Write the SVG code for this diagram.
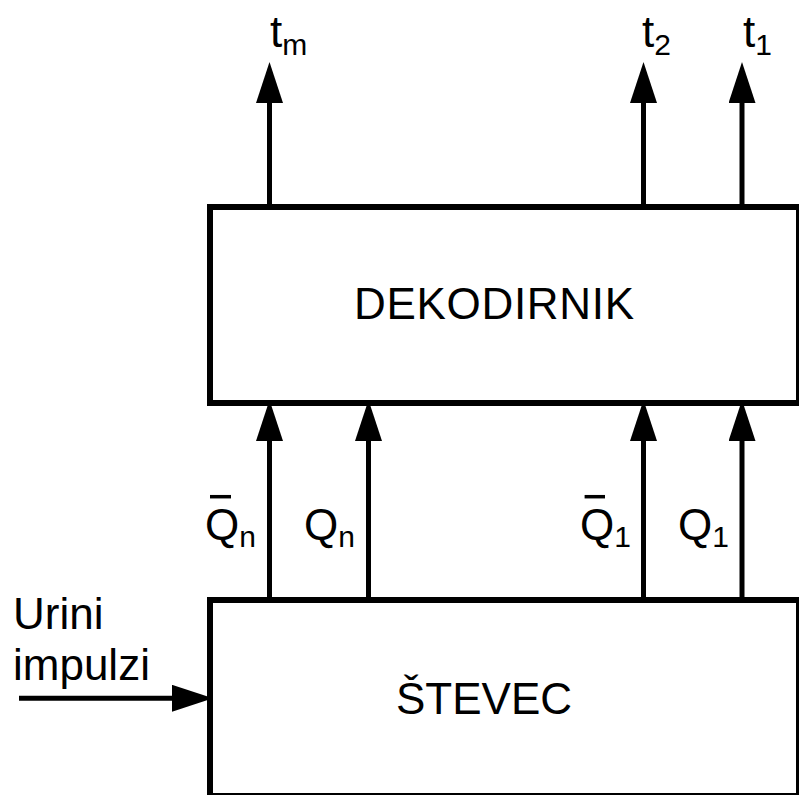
<svg xmlns="http://www.w3.org/2000/svg" width="799" height="795" viewBox="0 0 799 795">
<style>
.box{fill:#fff;stroke:#000;stroke-width:6}
.ln{stroke:#000;stroke-width:5;fill:none;marker-end:url(#ah)}
.t{font-family:"Liberation Sans",Arial,sans-serif;font-size:44px;fill:#000}
.s{font-size:30px}
.bar{stroke:#000;stroke-width:3.5}
</style>
<defs>
<marker id="ah" markerUnits="userSpaceOnUse" viewBox="0 0 41 27" refX="0" refY="13.5" markerWidth="41" markerHeight="27" orient="auto">
<path d="M0,0 L41,13.5 L0,27 z" fill="#000"/>
</marker>
</defs>
<rect width="799" height="795" fill="#fff"/>
<g id="dekodirnik">
<rect class="box" x="210" y="207" width="589" height="196"/>
<text class="t" x="354" y="319" textLength="280">DEKODIRNIK</text>
</g>
<g id="stevec">
<rect class="box" x="210" y="600" width="589" height="196"/>
<text class="t" x="396" y="714">ŠTEVEC</text>
</g>
<g id="connectors">
<line class="ln" x1="269.5" y1="207" x2="269.5" y2="103"/>
<line class="ln" x1="643.5" y1="207" x2="643.5" y2="103"/>
<line class="ln" x1="742" y1="207" x2="742" y2="103"/>
<line class="ln" x1="269.5" y1="600" x2="269.5" y2="441"/>
<line class="ln" x1="368.5" y1="600" x2="368.5" y2="441"/>
<line class="ln" x1="643.5" y1="600" x2="643.5" y2="441"/>
<line class="ln" x1="742" y1="600" x2="742" y2="441"/>
<line class="ln" x1="19" y1="698.3" x2="172" y2="698.3"/>
</g>
<g id="labels">
<text class="t" x="270" y="47">t<tspan class="s" dy="8">m</tspan></text>
<text class="t" x="642" y="47">t<tspan class="s" dy="8">2</tspan></text>
<text class="t" x="743" y="47">t<tspan class="s" dy="8">1</tspan></text>
<text class="t" x="205" y="540">Q<tspan class="s" dy="7">n</tspan></text>
<line class="bar" x1="210" y1="496.7" x2="231" y2="496.7"/>
<text class="t" x="304" y="540">Q<tspan class="s" dy="7">n</tspan></text>
<text class="t" x="580" y="540">Q<tspan class="s" dy="7">1</tspan></text>
<line class="bar" x1="584.6" y1="496.7" x2="605" y2="496.7"/>
<text class="t" x="678" y="540">Q<tspan class="s" dy="7">1</tspan></text>
<text class="t" x="13" y="629">Urini</text>
<text class="t" x="13" y="680">impulzi</text>
</g>
</svg>
